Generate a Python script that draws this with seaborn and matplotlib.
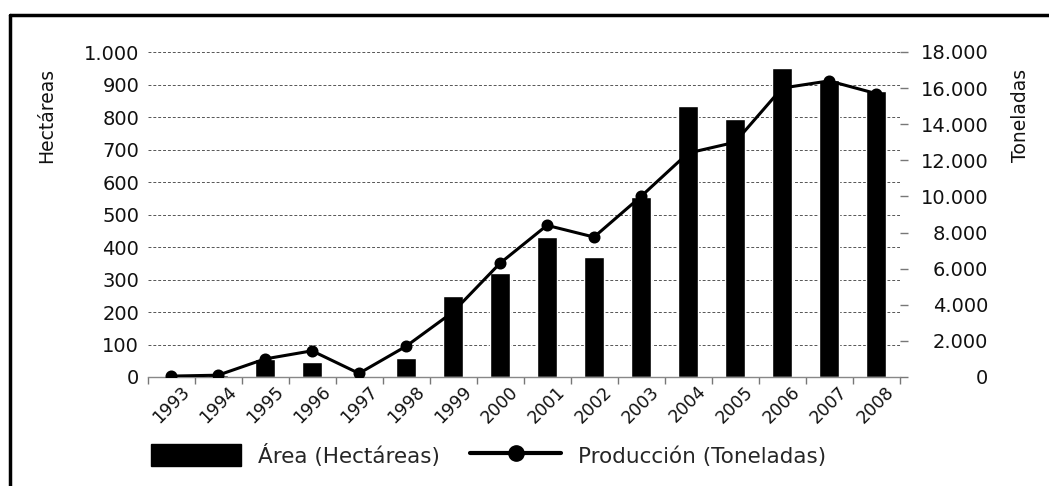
import matplotlib
matplotlib.use("Agg")
import matplotlib.pyplot as plt
import numpy as np
import pandas as pd
import seaborn as sns
from matplotlib.lines import Line2D
from matplotlib.patches import Patch

# Cultivated area (ha) and production (t) per year
years = ["1993", "1994", "1995", "1996", "1997", "1998", "1999", "2000",
         "2001", "2002", "2003", "2004", "2005", "2006", "2007", "2008"]
area_ha = [2, 5, 55, 45, 0, 60, 250, 320, 430, 370, 555, 835, 795, 950, 915, 880]
produccion_t = [50, 100, 1000, 1450, 200, 1700, 3600, 6300, 8400, 7750, 10000,
                12400, 13000, 16000, 16400, 15700]

area_ticks = [0, 100, 200, 300, 400, 500, 600, 700, 800, 900, 1000]
prod_ticks = [0, 2000, 4000, 6000, 8000, 10000, 12000, 14000, 16000, 18000]

bar_label = "Área (Hectáreas)"
line_label = "Producción (Toneladas)"
left_title = "Hectáreas"
right_title = "Toneladas"

sns.set_theme(style="white")
plt.rcParams["font.family"] = ["DejaVu Sans"]


def miles(v):
    s = f"{int(v):,}"
    return s.replace(",", ".")


df = pd.DataFrame({"anio": years, "area": area_ha, "prod": produccion_t})

W, H = 1049, 486
fig = plt.figure(figsize=(W / 100, H / 100), dpi=100)
ax = fig.add_axes([147.5 / W, 1 - 377 / H, 752 / W, 325 / H])
ax2 = ax.twinx()

# bars: area on the left axis
sns.barplot(data=df, x="anio", y="area", color="black", saturation=1,
            width=0.42, ax=ax)
# line: production on the right axis
sns.pointplot(data=df, x="anio", y="prod", color="black", markers="o",
              markersize=7, linewidth=2.2, ax=ax2)

n = len(years)
ax.set_xlim(-0.5, n - 0.5)
ax2.set_xlim(-0.5, n - 0.5)
ax.set_ylim(area_ticks[0], area_ticks[-1])
ax2.set_ylim(prod_ticks[0], prod_ticks[-1])

ax.set_xlabel("")
ax.set_ylabel("")
ax2.set_xlabel("")
ax2.set_ylabel("")

ax.set_yticks(area_ticks)
ax.set_yticklabels([miles(v) for v in area_ticks], fontsize=14, color="#111111")
ax2.set_yticks(prod_ticks)
ax2.set_yticklabels([miles(v) for v in prod_ticks], fontsize=14, color="#111111")
for lab in ax2.get_yticklabels():
    lab.set_horizontalalignment("right")

ax.set_xticks(range(n))
ax.set_xticklabels(years, rotation=45, ha="center", va="top", fontsize=12.5,
                   color="#111111")
ax.set_xticks(np.arange(n + 1) - 0.5, minor=True)

ax.tick_params(axis="x", which="major", length=0, pad=4)
ax.tick_params(axis="x", which="minor", length=5, width=1, color="#777777",
               bottom=True)
ax.tick_params(axis="y", length=0, pad=6)
ax2.tick_params(axis="y", length=6, width=1, color="#777777", pad=58)

# dashed horizontal grid on the area scale
ax.yaxis.grid(True, color="#555555", linestyle=(0, (3, 2)), linewidth=0.7)
ax.set_axisbelow(True)

for a in (ax, ax2):
    for side in ("top", "left", "right", "bottom"):
        a.spines[side].set_visible(False)
ax.spines["bottom"].set_visible(True)
ax.spines["bottom"].set_color("#888888")
ax.spines["bottom"].set_linewidth(1)

# axis titles
fig.text(47 / W, 1 - 115 / H, left_title, rotation=90, ha="center", va="center",
         fontsize=13.5, color="#111111")
fig.text(1020 / W, 1 - 115 / H, right_title, rotation=90, ha="center",
         va="center", fontsize=13.5, color="#111111")

# legend below the plot
handles = [Patch(facecolor="black", edgecolor="black"),
           Line2D([], [], color="black", marker="o", linewidth=3, markersize=11)]
fig.legend(handles, [bar_label, line_label], loc="center left",
           bbox_to_anchor=(140 / W, 1 - 455 / H), ncol=2, frameon=False,
           fontsize=15.5, handlelength=4.2, handleheight=1.2, handletextpad=0.8,
           columnspacing=1.4, borderpad=0)

# outer frame (top and left edges)
fig.add_artist(Line2D([10 / W, 1], [1 - 15 / H, 1 - 15 / H],
                      transform=fig.transFigure, color="black", linewidth=2.5))
fig.add_artist(Line2D([10 / W, 10 / W], [0, 1 - 15 / H],
                      transform=fig.transFigure, color="black", linewidth=2.5))

fig.savefig("out.png", dpi=100, facecolor="white")
